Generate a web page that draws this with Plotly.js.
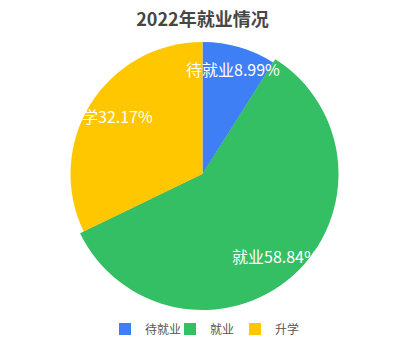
<!DOCTYPE html>
<html>
<head>
<meta charset="utf-8">
<script src="https://cdn.plot.ly/plotly-3.0.1.min.js"></script>
<style>html,body{margin:0;padding:0;background:#fff;}#chart{width:405px;height:351px;}</style>
</head>
<body>
<div id="chart"></div>
<script>
const categories = ['待就业', '就业', '升学'];
const values = [8.99, 58.84, 32.17];
const colors = ['#3f7ff6', '#34bf64', '#ffc700'];
const highlighted = '就业';

const W = 405, H = 351;
const cx = 202.5, cy = 174, R = 132, Rbig = 136;

function domainFor(r) {
  return {
    x: [(cx - r) / W, (cx + r) / W],
    y: [1 - (cy + r) / H, 1 - (cy - r) / H]
  };
}

const font = '"Noto Sans CJK SC", "Noto Sans", sans-serif';

const bigColors = categories.map((c, i) => c === highlighted ? colors[i] : 'rgba(0,0,0,0)');

const traces = [
  {
    type: 'pie', labels: categories, values: values, sort: false,
    direction: 'clockwise', rotation: 0, domain: domainFor(Rbig),
    marker: {colors: bigColors, line: {width: 0}},
    textinfo: 'none', hoverinfo: 'none', showlegend: false
  },
  {
    type: 'pie', labels: categories, values: values, sort: false,
    direction: 'clockwise', rotation: 0, domain: domainFor(R),
    marker: {colors: colors, line: {width: 0}},
    textinfo: 'none', hoverinfo: 'label+percent', showlegend: true
  }
];

const total = values.reduce((a, b) => a + b, 0);
let cum = 0;
const annotations = values.map((v, i) => {
  const mid = (cum + v / 2) / total * 2 * Math.PI;
  cum += v;
  const px = cx + 0.83 * R * Math.sin(mid);
  const py = cy - 0.83 * R * Math.cos(mid);
  return {
    xref: 'paper', yref: 'paper', x: px / W, y: 1 - py / H,
    xanchor: 'center', yanchor: 'middle', showarrow: false,
    text: categories[i] + values[i].toFixed(2) + '%',
    font: {family: font, size: 16, color: '#ffffff'}
  };
});

const layout = {
  width: W, height: H,
  margin: {l: 0, r: 0, t: 0, b: 0},
  paper_bgcolor: '#ffffff',
  title: {
    text: '<b>2022年就业情况</b>',
    font: {family: font, size: 18, color: '#464646'},
    x: 0.5, xanchor: 'center', y: 1 - 20 / H, yanchor: 'middle'
  },
  showlegend: true,
  legend: {
    orientation: 'h', x: 0.5, xanchor: 'center', y: 1 - 329 / H, yanchor: 'middle',
    font: {family: font, size: 12, color: '#555555'},
    itemwidth: 30, entrywidth: 20, entrywidthmode: 'pixels'
  },
  annotations: annotations
};

Plotly.newPlot('chart', traces, layout, {displayModeBar: false, staticPlot: true});
</script>
</body>
</html>
